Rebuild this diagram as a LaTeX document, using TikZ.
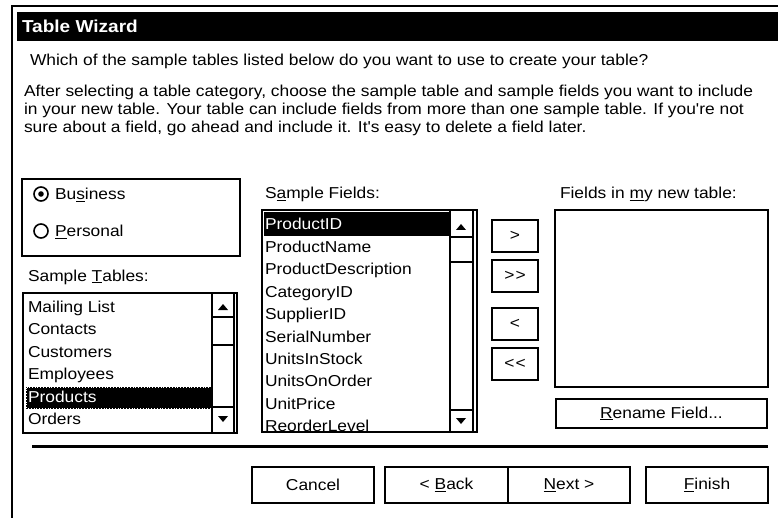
\documentclass[tikz,border=0pt]{standalone}
\usepackage{fontspec}
\setmainfont{Liberation Sans}[Ligatures=TeXOff,FakeStretch=1.1]
\newcommand\fs{\fontsize{15.8}{18}\selectfont}
\newcommand\uln[1]{\underline{#1}}
\begin{document}
\begin{tikzpicture}[x=1pt,y=-1pt,
  every node/.style={inner sep=0pt,outer sep=0pt,font=\fs},
  txt/.style={anchor=base west},
  frame/.style={draw=black,line width=2.2pt},
  btn/.style={draw=black,line width=1.2pt,fill=white,anchor=north west},
  shadow/.style={draw=black,line width=2pt},
  arrowtri/.style={fill=black}]
\useasboundingbox (0,0) rectangle (778,518);
\fill[white] (0,0) rectangle (778,518);
% outer frame and title
\draw[line width=2pt] (12,518) -- (12,6) -- (778,6);
\fill[black] (17,12) rectangle (778,41);
\node[txt,text=white,font=\fontsize{17.3}{19}\selectfont\bfseries] (title) at (22,33) {Table Wizard};
% texts
\node[txt] (q) at (30,66) {Which of the sample tables listed below do you want to use to create your table?};
\node[txt] (p1) at (24,97) {After selecting a table category, choose the sample table and sample fields you want to include};
\node[txt] (p2) at (24,115) {in your new table. Your table can include fields from more than one sample table. If you're not};
\node[txt] (p3) at (24,133) {sure about a field, go ahead and include it. It's easy to delete a field later.};
% radio group
\draw[frame] (22,179) rectangle (240,256);
\draw[line width=1.6pt] (41,194) circle (7);
\fill (41,194) circle (2.8);
\node[txt] (bus) at (55,200) {Bu\uln{s}iness};
\draw[line width=1.6pt] (41,231) circle (7);
\node[txt] (per) at (55,237) {\uln{P}ersonal};
% sample tables
\node[txt] (stl) at (28,281) {Sample \uln{T}ables:};
\draw[frame] (23,293) rectangle (237,433);
\fill[black] (26,387) rectangle (212,409);
\draw[white,dotted,line width=0.8pt] (26.5,387.5) rectangle (211.5,408.5);
\foreach \t/\i in {Mailing List/0,Contacts/1,Customers/2,Employees/3,Orders/5}
  \node[txt] (st\i) at (28,312.5+22.4*\i) {\t};
\node[txt,text=white] (st4) at (28,312.5+22.4*4) {Products};
\draw[line width=1.5pt] (212,293) -- (212,433);
\draw[line width=1.2pt] (234,294) -- (234,432);
\draw[line width=1.5pt] (212,317) -- (234,317) (212,345) -- (234,345) (212,407) -- (234,407);
\fill[arrowtri] (218,310) -- (228,310) -- (223,304) -- cycle;
\fill[arrowtri] (218,416) -- (228,416) -- (223,422) -- cycle;
% sample fields
\node[txt] (sfl) at (265,199) {S\uln{a}mple Fields:};
\draw[frame] (262,210) rectangle (477,432);
\fill[black] (264,212) rectangle (450,236);
\begin{scope}
\clip (263,211) rectangle (449,431);
\node[txt,text=white] (sf0) at (265,230) {ProductID};
\foreach \t/\i in {ProductName/1,ProductDescription/2,CategoryID/3,SupplierID/4,SerialNumber/5,UnitsInStock/6,UnitsOnOrder/7,UnitPrice/8,ReorderLevel/9}
  \node[txt] (sf\i) at (265,230+22.4*\i) {\t};
\end{scope}
\draw[line width=1.5pt] (450,210) -- (450,432);
\draw[line width=1.2pt] (473,211) -- (473,431);
\draw[line width=1.5pt] (450,237) -- (473,237) (450,262) -- (473,262) (450,410) -- (473,410);
\fill[arrowtri] (456,230) -- (466,230) -- (461,224) -- cycle;
\fill[arrowtri] (456,418) -- (466,418) -- (461,424) -- cycle;
% move buttons
\foreach \n/\t/\yy in {b1/{>}/220,b2/{>\kern1pt>}/260,b3/{<}/308,b4/{<\kern1pt<}/348}{
  \node[btn,minimum width=46,minimum height=32] (\n) at (492,\yy) {\t};
  \draw[shadow] (\n.north east) -- (\n.south east) -- (\n.south west);
}
% new table
\node[txt] (nfl) at (560,199) {Fields in \uln{m}y new table:};
\draw[frame] (555,210) rectangle (768,387);
\node[btn,minimum width=211,minimum height=29] (ren) at (556,399) {\uln{R}ename Field...};
\draw[shadow] (ren.north east) -- (ren.south east) -- (ren.south west);
% separator
\draw[line width=3pt] (32,446) -- (768,446);
% bottom buttons
\foreach \n/\t/\xx/\w in {can/Cancel/252/122,bak/{< \uln{B}ack}/385/123,nxt/{\uln{N}ext >}/508/122,fin/{\uln{F}inish}/646/122}{
  \node[btn,minimum width=\w,minimum height=36] (\n) at (\xx,467) {\t};
  \draw[shadow] (\n.north east) -- (\n.south east) -- (\n.south west);
}
\draw[line width=2.5pt] (nxt.north west) -- (nxt.south west);
\end{tikzpicture}
\end{document}
